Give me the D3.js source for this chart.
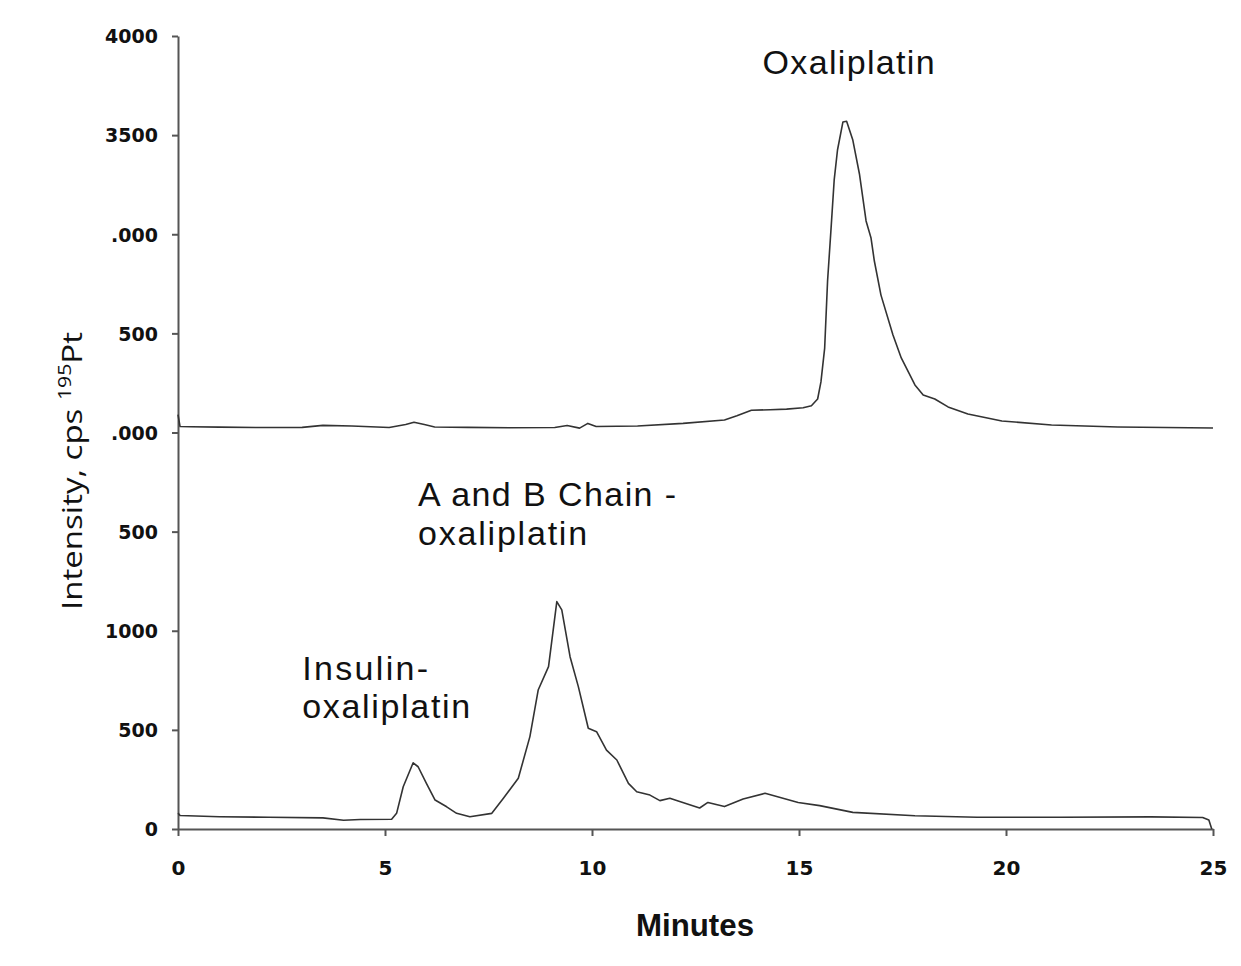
<!DOCTYPE html>
<html>
<head>
<meta charset="utf-8">
<script src="https://cdn.jsdelivr.net/npm/d3@7"></script>
<style>
  body { margin: 0; background: #fff; }
  svg { display: block; }
  .tick text { font-family: "DejaVu Sans", sans-serif; font-weight: bold; fill: #111; }
  .note { font-family: "Liberation Sans", Arial, sans-serif; font-size: 34px; fill: #111; }
</style>
</head>
<body>
<svg id="chart" width="1241" height="966"></svg>
<script>
// chromatogram traces (minutes, cps), top trace is offset by ~2000 as in the figure
var topTime = [0, 0.05, 0.3, 1, 2, 3, 3.5, 4.2, 5.1, 5.5, 5.7, 5.95, 6.2, 7, 8, 9.1, 9.4, 9.7, 9.9, 10.1,
  11.1, 12.2, 13.2, 13.5, 13.85, 14.3, 14.7, 15.1, 15.3, 15.45, 15.53, 15.62, 15.69, 15.77, 15.85, 15.93,
  16.06, 16.15, 16.3, 16.46, 16.62, 16.74, 16.82, 16.98, 17.27, 17.47, 17.8, 18.0, 18.28, 18.6, 19.08,
  19.9, 21.1, 22.7, 25];
var topValue = [2090, 2030, 2029, 2027, 2025, 2026, 2036, 2033, 2025, 2040, 2052, 2040, 2028, 2026, 2024,
  2025, 2035, 2022, 2046, 2030, 2033, 2046, 2063, 2084, 2112, 2115, 2118, 2125, 2135, 2169, 2255, 2426,
  2764, 3016, 3274, 3425, 3566, 3570, 3475, 3304, 3067, 2981, 2865, 2693, 2492, 2376, 2240, 2189, 2169,
  2129, 2093, 2058, 2038, 2028, 2023];

var botTime = [0, 0.05, 1, 2.2, 3.5, 4.0, 4.4, 5.16, 5.28, 5.44, 5.68, 5.8, 6.0, 6.21, 6.49, 6.73, 7.05,
  7.58, 7.86, 8.22, 8.5, 8.7, 8.95, 9.15, 9.27, 9.47, 9.67, 9.91, 10.11, 10.35, 10.6, 10.88, 11.08, 11.4,
  11.64, 11.88, 12.1, 12.6, 12.8, 13.2, 13.65, 14.18, 14.98, 15.5, 16.3, 17.8, 19.3, 21.3, 23.5, 24.75,
  24.9, 24.97];
var botValue = [80, 68, 62, 59, 56, 44, 48, 49, 79, 213, 334, 314, 230, 146, 112, 79, 62, 79, 155, 256,
  466, 701, 819, 1147, 1105, 869, 718, 508, 491, 398, 348, 230, 188, 171, 143, 155, 140, 106, 134, 113,
  151, 180, 134, 118, 84, 67, 59, 59, 61, 58, 45, 0];

var xTicks = [0, 5, 10, 15, 20, 25];
var yTicks = [0, 500, 1000, 1500, 2000, 2500, 3000, 3500, 4000];
// the original figure has its left labels cut off, keep them as shown
var yTickLabels = ["0", "500", "1000", "500", ".000", "500", ".000", "3500", "4000"];

var notes = [
  {text: "Oxaliplatin", t: 14.12, v: 3810, len: 172},
  {text: "A and B Chain -", t: 5.8, v: 1630, len: 258},
  {text: "oxaliplatin", t: 5.8, v: 1435, len: 169},
  {text: "Insulin-", t: 3.0, v: 751, len: 126},
  {text: "oxaliplatin", t: 3.0, v: 560, len: 168}
];

var svg = d3.select('#chart');
var x = d3.scaleLinear().domain([0, 25]).range([178, 1213]);
var y = d3.scaleLinear().domain([0, 4000]).range([829, 36]);

var ya = svg.append('g').attr('transform', 'translate(178,0)')
  .call(d3.axisLeft(y).tickValues(yTicks).tickSize(6).tickSizeOuter(0).tickPadding(14)
    .tickFormat(function(d, i){ return yTickLabels[i]; }));
ya.selectAll('text').attr('font-size', 19).attr('dy', '0.36em');

var xa = svg.append('g').attr('transform', 'translate(0,829)')
  .call(d3.axisBottom(x).tickValues(xTicks).tickSize(7).tickSizeOuter(0).tickPadding(25));
xa.selectAll('text').attr('font-size', 20);

svg.selectAll('.domain, .tick line').attr('stroke', '#555').attr('stroke-width', 2);

var line = d3.line()
  .x(function(d){ return x(d[0]); })
  .y(function(d){ return y(d[1]); });

[[topTime, topValue], [botTime, botValue]].forEach(function(s){
  svg.append('path')
    .datum(d3.zip(s[0], s[1]))
    .attr('d', line)
    .attr('fill', 'none')
    .attr('stroke', '#333')
    .attr('stroke-width', 1.6)
    .attr('stroke-linejoin', 'round');
});

svg.selectAll('text.note').data(notes).enter().append('text')
  .attr('class', 'note')
  .attr('x', function(d){ return x(d.t); })
  .attr('y', function(d){ return y(d.v); })
  .attr('textLength', function(d){ return d.len; })
  .attr('lengthAdjust', 'spacing')
  .text(function(d){ return d.text; });

svg.append('text')
  .attr('x', 695).attr('y', 936)
  .attr('text-anchor', 'middle')
  .attr('font-family', '"Liberation Sans Narrow", "Liberation Sans", sans-serif')
  .attr('font-weight', 'bold')
  .attr('font-size', 32)
  .attr('textLength', 118)
  .attr('lengthAdjust', 'spacingAndGlyphs')
  .attr('fill', '#111')
  .text('Minutes');

var yt = svg.append('text')
  .attr('transform', 'translate(82,471) rotate(-90)')
  .attr('text-anchor', 'middle')
  .attr('font-family', '"Open Sans", sans-serif')
  .attr('font-size', 28)
  .attr('fill', '#111')
  .attr('textLength', 278)
  .attr('lengthAdjust', 'spacingAndGlyphs');
yt.append('tspan').text('Intensity, cps ');
yt.append('tspan').attr('font-size', 18).attr('dy', -11).text('195');
yt.append('tspan').attr('dy', 11).text('Pt');
</script>
</body>
</html>
